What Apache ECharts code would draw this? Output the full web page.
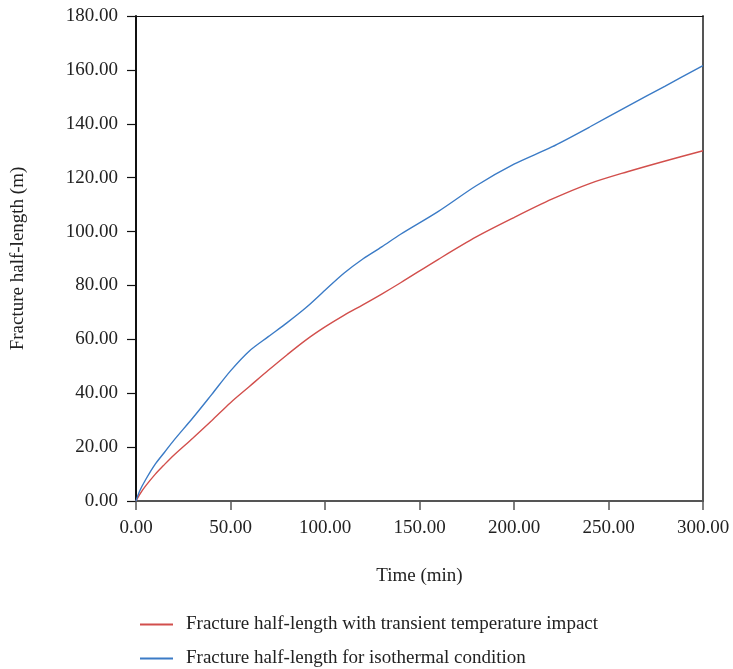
<!DOCTYPE html>
<html>
<head>
<meta charset="utf-8">
<script src="https://cdn.jsdelivr.net/npm/echarts@6/dist/echarts.min.js"></script>
<style>
  html, body { margin: 0; padding: 0; background: #fff; }
  #chart { width: 733px; height: 669px; }
</style>
</head>
<body>
<div id="chart"></div>
<script>
// Time samples (min)
const timeMin = [0, 2, 5, 10, 15, 20, 30, 40, 50, 60, 70, 80, 90, 100, 110, 120, 130, 140, 160, 180, 200, 220, 240, 260, 280, 300];
// Fracture half-length with transient temperature impact (m)
const transientLen = [0, 2.5, 5.5, 9.8, 13.5, 17, 23.3, 29.8, 36.5, 42.5, 48.5, 54.3, 59.8, 64.6, 68.9, 72.8, 76.8, 81, 89.7, 98, 105.2, 112, 117.8, 122.2, 126.2, 130];
// Fracture half-length for isothermal condition (m)
const isothermalLen = [0, 3.8, 7.8, 13.5, 18, 22.5, 30.8, 39.5, 48.3, 55.7, 61, 66.2, 71.8, 78.2, 84.5, 89.8, 94.3, 99, 107.5, 117, 125, 131.4, 138.8, 146.5, 154, 161.6];

const seriesNames = [
  'Fracture half-length with transient temperature impact',
  'Fracture half-length for isothermal condition'
];
const seriesColors = ['#d24f4c', '#3b7bc6'];

const pairs = (xs, ys) => xs.map((x, i) => [x, ys[i]]);
const fmt = v => v.toFixed(2);
const FONT = '"Liberation Serif", "DejaVu Serif", serif';
const FS = 19;

// one single-entry legend per row, stacked below the x-axis title
const legendRow = (name, top) => ({
  left: 135,
  top: top,
  itemWidth: 33,
  itemHeight: 2,
  icon: 'rect',
  textStyle: { fontFamily: FONT, fontSize: FS, color: '#222', padding: [0, 0, 0, 8] },
  data: [name]
});

const chart = echarts.init(document.getElementById('chart'), null, { renderer: 'canvas' });

chart.setOption({
  backgroundColor: '#fff',
  animation: false,
  textStyle: { fontFamily: FONT, color: '#222' },
  grid: { left: 136, top: 16, width: 567, height: 485, containLabel: false, outerBoundsMode: 'none' },
  legend: [legendRow(seriesNames[0], 610), legendRow(seriesNames[1], 644)],
  xAxis: [{
    type: 'value',
    min: 0, max: 300, interval: 50,
    name: 'Time (min)',
    nameLocation: 'middle',
    nameGap: 66,
    nameTextStyle: { fontFamily: FONT, fontSize: FS, color: '#222' },
    axisLine: { show: true, onZero: false, lineStyle: { color: '#555', width: 2 } },
    axisTick: { show: true, inside: false, length: 9, lineStyle: { color: '#555', width: 1.5 } },
    axisLabel: { formatter: fmt, fontFamily: FONT, fontSize: FS, color: '#222', margin: 18 },
    splitLine: { show: false }
  }, {
    type: 'value',
    position: 'top',
    min: 0, max: 300,
    axisLine: { show: true, onZero: false, lineStyle: { color: '#111', width: 1.2 } },
    axisTick: { show: false },
    axisLabel: { show: false },
    splitLine: { show: false }
  }],
  yAxis: [{
    type: 'value',
    min: 0, max: 180, interval: 20,
    name: 'Fracture half-length (m)',
    nameLocation: 'middle',
    nameGap: 108,
    nameRotate: 90,
    nameTextStyle: { fontFamily: FONT, fontSize: FS, color: '#222' },
    axisLine: { show: true, onZero: false, lineStyle: { color: '#111', width: 2 } },
    axisTick: { show: true, inside: false, length: 9, lineStyle: { color: '#111', width: 1.2 } },
    axisLabel: { formatter: fmt, fontFamily: FONT, fontSize: FS, color: '#222', margin: 18 },
    splitLine: { show: false }
  }, {
    type: 'value',
    position: 'right',
    min: 0, max: 180,
    axisLine: { show: true, onZero: false, lineStyle: { color: '#555', width: 2 } },
    axisTick: { show: false },
    axisLabel: { show: false },
    splitLine: { show: false }
  }],
  series: [{
    name: seriesNames[0],
    type: 'line',
    smooth: 0.3,
    showSymbol: false,
    xAxisIndex: 0, yAxisIndex: 0,
    lineStyle: { color: seriesColors[0], width: 1.4 },
    itemStyle: { color: seriesColors[0] },
    data: pairs(timeMin, transientLen)
  }, {
    name: seriesNames[1],
    type: 'line',
    smooth: 0.3,
    showSymbol: false,
    xAxisIndex: 0, yAxisIndex: 0,
    lineStyle: { color: seriesColors[1], width: 1.4 },
    itemStyle: { color: seriesColors[1] },
    data: pairs(timeMin, isothermalLen)
  }]
});
</script>
</body>
</html>
